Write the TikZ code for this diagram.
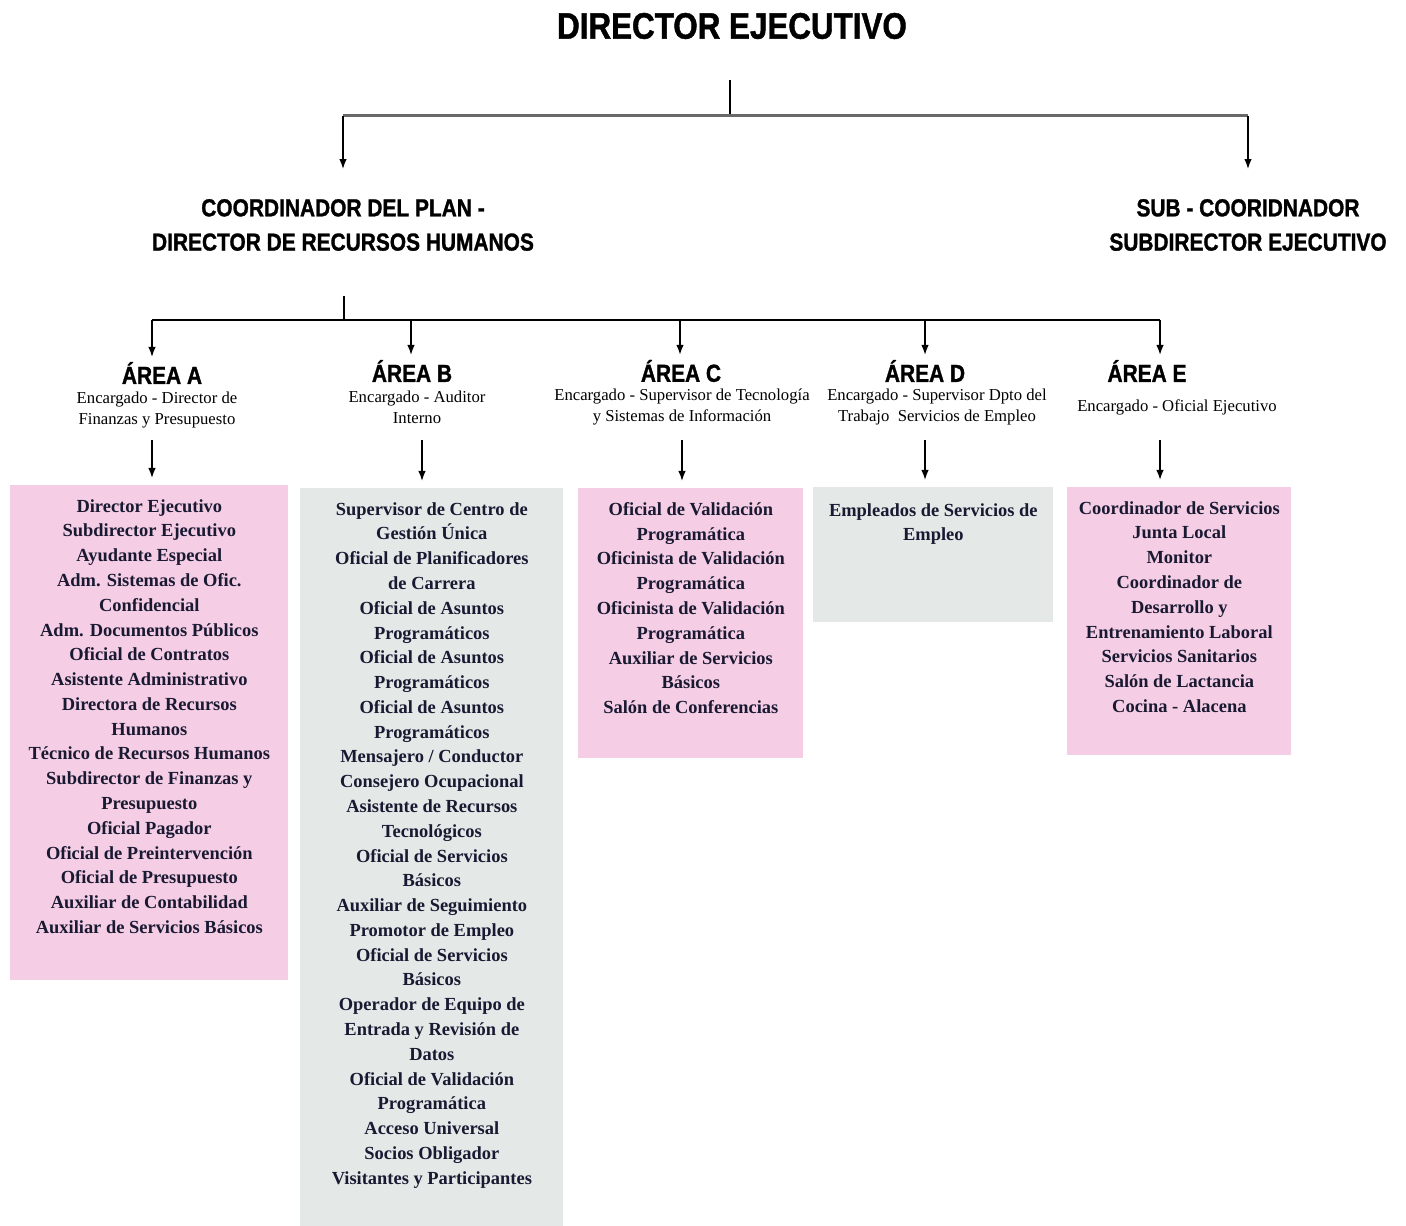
\documentclass[tikz,border=0pt]{standalone}
\usepackage{fontspec}
\setmainfont{Liberation Serif}
\newfontfamily\headfont[FakeStretch=0.85, FakeBold=1.2]{Liberation Sans}
\usetikzlibrary{positioning, arrows.meta}

\definecolor{areapink}{RGB}{245,206,230}
\definecolor{areagray}{RGB}{228,233,232}
\definecolor{busgray}{RGB}{105,105,105}
\definecolor{listink}{RGB}{25,25,50}

\begin{document}
\begin{tikzpicture}[
    x=0.2mm, y=-0.2mm,
    >={Latex[length=2mm, width=1.5mm]},
    title/.style={font=\headfont\bfseries\fontsize{21}{24}\selectfont, inner sep=1pt},
    head/.style={font=\headfont\bfseries\fontsize{14}{19.5}\selectfont, align=center, inner sep=1pt},
    area/.style={font=\headfont\bfseries\fontsize{14}{16}\selectfont, inner sep=1pt},
    enc/.style={font=\fontsize{9.5}{12}\selectfont, align=center, inner sep=1pt},
    pinkbox/.style={rectangle, fill=areapink, anchor=north west, inner sep=0pt},
    graybox/.style={rectangle, fill=areagray, anchor=north west, inner sep=0pt},
    boxtext/.style={font=\bfseries\fontsize{10.5}{14.1}\selectfont, text=listink,
                    align=center, anchor=north, inner sep=0pt},
    stem/.style={line width=0.35mm, draw=black},
    bus/.style={line width=0.6mm, draw=busgray},
    arr/.style={->, line width=0.3mm, draw=black},
]
\useasboundingbox (0,0) rectangle (1406,1226);

% Nodes
\node[title] (dir) at (732,26) {DIRECTOR EJECUTIVO};
\node[head]  (coord) at (343,225) {COORDINADOR DEL PLAN -\\DIRECTOR DE RECURSOS HUMANOS};
\node[head]  (sub)   at (1248,225) {SUB - COORIDNADOR\\SUBDIRECTOR EJECUTIVO};

\node[area] (areaA) at (162,373) {ÁREA A};
\node[area] (areaB) at (412,371) {ÁREA B};
\node[area] (areaC) at (681,371) {ÁREA C};
\node[area] (areaD) at (925,371) {ÁREA D};
\node[area] (areaE) at (1147,371) {ÁREA E};

\node[enc] (encA) at (157,410) {Encargado - Director de\\Finanzas y Presupuesto};
\node[enc] (encB) at (417,407) {Encargado - Auditor\\Interno};
\node[enc] (encC) at (682,407) {Encargado - Supervisor de Tecnología\\y Sistemas de Información};
\node[enc] (encD) at (937,407) {Encargado - Supervisor Dpto del\\Trabajo\ \ Servicios de Empleo};
\node[enc] (encE) at (1177,407) {Encargado - Oficial Ejecutivo};

% Boxes
\node[pinkbox, minimum width=55.6mm, minimum height=99mm]   (boxA) at (10,485) {};
\node[graybox, minimum width=52.6mm, minimum height=147.6mm] (boxB) at (300,488) {};
\node[pinkbox, minimum width=45mm, minimum height=54mm]     (boxC) at (578,488) {};
\node[graybox, minimum width=48mm, minimum height=27mm]     (boxD) at (813,487) {};
\node[pinkbox, minimum width=44.8mm, minimum height=53.6mm] (boxE) at (1067,487) {};

\node[boxtext] (listA) at ([yshift=-2.8mm]boxA.north) {Director Ejecutivo\\Subdirector Ejecutivo\\Ayudante Especial\\
  Adm. Sistemas de Ofic.\\Confidencial\\Adm. Documentos Públicos\\Oficial de Contratos\\
  Asistente Administrativo\\Directora de Recursos\\Humanos\\Técnico de Recursos Humanos\\
  Subdirector de Finanzas y\\Presupuesto\\Oficial Pagador\\Oficial de Preintervención\\
  Oficial de Presupuesto\\Auxiliar de Contabilidad\\Auxiliar de Servicios Básicos};
\node[boxtext] (listB) at ([yshift=-2.8mm]boxB.north) {Supervisor de Centro de\\Gestión Única\\
  Oficial de Planificadores\\de Carrera\\Oficial de Asuntos\\Programáticos\\Oficial de Asuntos\\
  Programáticos\\Oficial de Asuntos\\Programáticos\\Mensajero / Conductor\\Consejero Ocupacional\\
  Asistente de Recursos\\Tecnológicos\\Oficial de Servicios\\Básicos\\Auxiliar de Seguimiento\\
  Promotor de Empleo\\Oficial de Servicios\\Básicos\\Operador de Equipo de\\Entrada y Revisión de\\
  Datos\\Oficial de Validación\\Programática\\Acceso Universal\\Socios Obligador\\
  Visitantes y Participantes};
\node[boxtext] (listC) at ([yshift=-2.8mm]boxC.north) {Oficial de Validación\\Programática\\
  Oficinista de Validación\\Programática\\Oficinista de Validación\\Programática\\
  Auxiliar de Servicios\\Básicos\\Salón de Conferencias};
\node[boxtext] (listD) at ([yshift=-3.2mm]boxD.north) {Empleados de Servicios de\\Empleo};
\node[boxtext] (listE) at ([yshift=-2.8mm]boxE.north) {Coordinador de Servicios\\Junta Local\\Monitor\\
  Coordinador de\\Desarrollo y\\Entrenamiento Laboral\\Servicios Sanitarios\\Salón de Lactancia\\
  Cocina - Alacena};

% Connector points
\coordinate (topStem) at (730,80);
\coordinate (topBus)  at (730,116);
\coordinate (midStem) at (344,296);
\coordinate (midBus)  at (344,320);
\coordinate (bA) at (152,320);
\coordinate (bB) at (411,320);
\coordinate (bC) at (680,320);
\coordinate (bD) at (925,320);
\coordinate (bE) at (1160,320);
\coordinate (dA) at (152,440);
\coordinate (dB) at (422,440);
\coordinate (dC) at (682,440);
\coordinate (dD) at (925,440);
\coordinate (dE) at (1160,440);

% Edges
\draw[stem] (topStem) -- (topBus);
\draw[bus] (coord.north |- topBus) -- (sub.north |- topBus);
\draw[arr, shorten >=5.6mm] (coord.north |- topBus) -- (coord.north);
\draw[arr, shorten >=5.6mm] (sub.north |- topBus) -- (sub.north);

\draw[stem] (midStem) -- (midBus);
\draw[stem] (bA) -- (bE);
\draw[arr, shorten >=0.6mm] (bA) -- (bA |- areaA.north);
\draw[arr, shorten >=0.6mm] (bB) -- (bB |- areaB.north);
\draw[arr, shorten >=0.6mm] (bC) -- (bC |- areaC.north);
\draw[arr, shorten >=0.6mm] (bD) -- (bD |- areaD.north);
\draw[arr, shorten >=0.6mm] (bE) -- (bE |- areaE.north);

\draw[arr, shorten >=1.4mm] (dA) -- (dA |- boxA.north);
\draw[arr, shorten >=1.4mm] (dB) -- (dB |- boxB.north);
\draw[arr, shorten >=1.4mm] (dC) -- (dC |- boxC.north);
\draw[arr, shorten >=1.4mm] (dD) -- (dD |- boxD.north);
\draw[arr, shorten >=1.4mm] (dE) -- (dE |- boxE.north);

\end{tikzpicture}
\end{document}
